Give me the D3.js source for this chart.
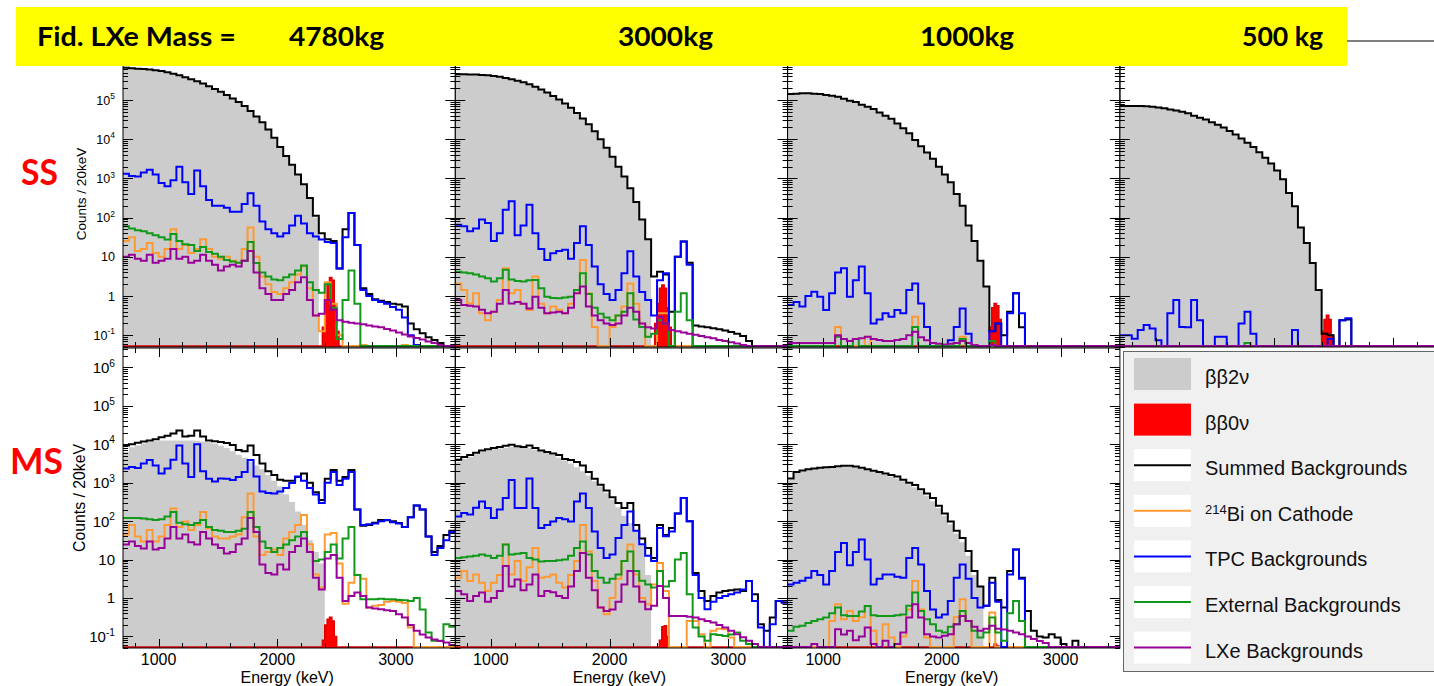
<!DOCTYPE html>
<html><head><meta charset="utf-8">
<script src="https://cdn.jsdelivr.net/npm/d3@7"></script>
<style>body{margin:0;background:#fff;} svg{display:block;}</style>
</head><body>
<svg id="chart" width="1434" height="686"></svg>
<script>
// ---------------- DATA ----------------
// Energy bins: lower edges (keV), 50 keV wide, 700..3500
const binLo = d3.range(700, 3500, 50);
// ββ0ν peak bins: lower edges (keV), 20 keV wide
const redLo = [2380, 2400, 2420, 2440, 2460, 2480, 2500];
// Column headers and row labels
const massLabels = ["4780kg", "3000kg", "1000kg", "500 kg"];
const rowLabels = ["SS", "MS"];
const xTickLabels = [1000, 2000, 3000];
const legendLabels = ["ββ2ν", "ββ0ν", "Summed Backgrounds", "214|Bi on Cathode", "TPC Backgrounds", "External Backgrounds", "LXe Backgrounds"];
// All series: log10(Counts / 20keV) per bin; -3 means below the axis minimum

// ---- SS, 4780 kg ----
const ss4780_bb2n = [5.82,5.81,5.80,5.79,5.78,5.76,5.74,5.71,5.67,5.63, 5.58,5.53,5.48,5.42,5.35,5.28,5.21,5.13,5.04,4.95, 4.85,4.72,4.58,4.43,4.25,4.04,3.80,3.57,3.35,3.10, 2.84,2.48,2.00,-3,-3,-3,-3,-3,-3,-3, -3,-3,-3,-3,-3,-3,-3,-3,-3,-3, -3,-3,-3,-3,-3,-3];
const ss4780_bb0n = [-0.8,-0.1,0.3,0.47,0.4,-0.2,-0.9];
const ss4780_sum = [5.82,5.81,5.80,5.79,5.78,5.76,5.74,5.71,5.67,5.63, 5.58,5.53,5.48,5.42,5.35,5.28,5.21,5.13,5.04,4.95, 4.85,4.72,4.58,4.43,4.25,4.04,3.80,3.57,3.35,3.10, 2.85,2.50,2.05,1.60,1.45,1.40,0.70,1.70,2.12,1.30, 0.20,0.05,-0.08,-0.12,-0.15,-0.20,-0.22,-0.27,-0.70,-0.85, -0.95,-1.05,-1.12,-1.20,-1.30,-1.40];
const ss4780_bi214 = [1.4,1.5,1.15,1.2,1.35,1.1,1.0,1.2,1.7,1.2, 1.3,1.1,1.2,1.45,1.2,1.0,0.95,1.0,0.9,0.85, 1.2,1.75,1.0,0.5,0.3,0.1,0.05,0.2,0.35,0.55, 0.75,0.2,-0.5,-0.9,0.35,-0.2,-1.0,-3,-3,-3, -1.25,-3,-3,-3,-3,-3,-3,-1.25,-3,-3, -3,-3,-3,-3,-3,-3];
const ss4780_tpc = [3.12,3.06,3.05,3.15,3.22,3.1,2.88,2.8,2.95,3.3, 2.9,2.6,3.2,2.8,2.45,2.3,2.3,2.25,2.15,2.15, 2.35,2.62,2.3,1.9,1.7,1.6,1.52,1.6,1.8,2.05, 1.85,1.6,1.52,1.44,1.38,1.35,0.7,1.5,2.12,1.3, 0.15,0.0,-0.1,-0.15,-0.2,-0.28,-0.35,-0.55,-1.0,-1.25, -3,-3,-3,-3,-3,-3];
const ss4780_ext = [1.78,1.72,1.68,1.65,1.6,1.55,1.5,1.44,1.58,1.4, 1.32,1.3,1.15,1.25,1.12,1.08,1.0,0.92,0.88,0.85, 0.9,1.38,0.84,0.6,0.5,0.42,0.4,0.48,0.55,0.65, 0.78,0.35,0.15,0.08,0.3,-0.3,-1.1,-0.1,0.65,-0.2, -3,-3,-3,-3,-3,-3,-3,-3,-3,-3, -3,-3,-3,-3,-3,-3];
const ss4780_lxe = [1.0,1.05,0.95,0.9,1.05,0.85,0.9,0.95,1.2,0.95, 1.0,0.85,0.9,1.05,0.9,0.8,0.65,0.75,0.8,0.75, 0.9,1.15,0.6,0.2,0.05,-0.1,-0.1,0.05,0.15,0.35, 0.48,-0.1,-0.5,-0.45,-0.1,-0.35,-0.62,-0.66,-0.68,-0.7, -0.72,-0.75,-0.78,-0.8,-0.84,-0.88,-0.93,-0.98,-1.03,-1.07, -1.11,-1.16,-1.2,-1.25,-1.3,-1.35];

// ---- SS, 3000 kg ----
const ss3000_bb2n = [5.66,5.66,5.65,5.65,5.64,5.63,5.61,5.59,5.56,5.53, 5.49,5.45,5.40,5.34,5.27,5.19,5.10,5.01,4.91,4.80, 4.67,4.53,4.38,4.20,4.00,3.78,3.55,3.30,3.05,2.75, 2.40,1.95,1.45,-3,-3,-3,-3,-3,-3,-3, -3,-3,-3,-3,-3,-3,-3,-3,-3,-3, -3,-3,-3,-3,-3,-3];
const ss3000_bb0n = [-0.7,-0.2,0.2,0.28,0.2,-0.3,-0.8];
const ss3000_sum = [5.66,5.66,5.65,5.65,5.64,5.63,5.61,5.59,5.56,5.53, 5.49,5.45,5.40,5.34,5.27,5.19,5.10,5.01,4.91,4.80, 4.67,4.53,4.38,4.20,4.00,3.78,3.55,3.30,3.05,2.75, 2.40,1.95,1.45,0.5,0.62,0.55,-0.4,1.0,1.39,0.85, -0.75,-0.78,-0.8,-0.82,-0.85,-0.88,-0.92,-0.96,-1.02,-1.15, -1.28,-3,-3,-3,-3,-3];
const ss3000_bi214 = [0.32,0.15,-0.19,0.07,-0.44,-0.62,-0.4,-0.1,0.71,0.07, 0.15,-0.2,-0.36,0.5,-0.2,-0.44,-0.27,-0.35,-0.44,-0.2, 0.07,0.92,0.07,-0.79,-3,-3,-0.79,-0.5,-0.27,0.32, -0.2,-0.7,-3,-3,-0.44,-0.44,-3,-3,-3,-3, -3,-3,-3,-3,-3,-3,-3,-3,-3,-3, -3,-3,-3,-3,-3,-3];
const ss3000_tpc = [1.82,1.78,1.65,1.72,1.95,1.86,1.4,1.6,2.2,2.42, 1.55,1.8,2.33,1.6,1.2,0.92,1.09,1.15,1.18,0.95, 1.35,1.78,1.3,0.75,0.3,0.05,-0.1,0.15,0.58,1.14, 0.5,0.1,-0.1,-0.5,0.4,0.58,-3,1.0,1.39,0.8, -3,-3,-3,-3,-3,-3,-3,-3,-3,-3, -3,-3,-3,-3,-3,-3];
const ss3000_ext = [0.62,0.6,0.58,0.55,0.5,0.45,0.37,0.45,0.67,0.42, 0.38,0.37,0.4,0.41,0.2,-0.02,-0.05,-0.06,-0.04,-0.02, 0.15,0.58,0.05,-0.3,-0.45,-0.55,-0.62,-0.5,-0.4,0.07, -0.6,-0.79,-1.04,-0.96,-0.62,-0.7,-3,-0.4,0.07,-0.62, -3,-3,-3,-3,-3,-3,-3,-3,-3,-3, -3,-3,-3,-3,-3,-3];
const ss3000_lxe = [-0.1,-0.23,-0.25,-0.27,-0.35,-0.44,-0.4,-0.2,0.15,-0.19, -0.15,-0.2,-0.32,-0.02,-0.3,-0.44,-0.42,-0.4,-0.44,-0.3, 0.07,0.24,-0.27,-0.5,-0.62,-0.7,-0.74,-0.7,-0.5,-0.3, -0.4,-0.7,-0.8,-0.83,-0.53,-0.7,-0.87,-0.9,-0.93,-0.96, -0.99,-1.02,-1.05,-1.08,-1.12,-1.15,-1.18,-1.21,-1.25,-1.3, -3,-3,-3,-3,-3,-3];

// ---- SS, 1000 kg ----
const ss1000_bb2n = [5.15,5.16,5.17,5.17,5.16,5.15,5.13,5.11,5.08,5.03, 4.98,4.95,4.88,4.83,4.77,4.68,4.60,4.52,4.40,4.28, 4.15,3.98,3.82,3.66,3.50,3.30,3.10,2.90,2.60,2.30, 1.80,1.40,0.90,0.24,-3,-3,-3,-3,-3,-3, -3,-3,-3,-3,-3,-3,-3,-3,-3,-3, -3,-3,-3,-3,-3,-3];
const ss1000_bb0n = [-3,-0.8,-0.3,-0.19,-0.25,-0.6,-3];
const ss1000_sum = [5.15,5.16,5.17,5.17,5.16,5.15,5.13,5.11,5.08,5.03, 4.98,4.95,4.88,4.83,4.77,4.68,4.60,4.52,4.40,4.28, 4.15,3.98,3.82,3.66,3.50,3.30,3.10,2.90,2.60,2.30, 1.80,1.40,0.90,0.24,-0.9,-0.7,-1.0,-0.4,0.07,-0.8, -3,-3,-3,-3,-3,-3,-3,-3,-3,-3, -3,-3,-3,-3,-3,-3];
const ss1000_bi214 = [-3,-3,-3,-3,-3,-3,-3,-3,-0.79,-3, -3,-3,-3,-1.04,-3,-3,-3,-3,-3,-3, -3,-0.53,-3,-3,-3,-3,-3,-3,-3,-1.04, -3,-3,-3,-3,-3,-3,-3,-3,-3,-3, -3,-3,-3,-3,-3,-3,-3,-3,-3,-3, -3,-3,-3,-3,-3,-3];
const ss1000_tpc = [-0.23,-0.15,-0.27,0.0,0.11,-0.02,-0.36,0.07,0.6,0.71, -0.02,0.4,0.75,0.07,-0.7,-0.6,-0.44,-0.53,-0.36,-0.44, 0.15,0.32,-0.19,-0.79,-3,-3,-3,-1.13,-0.79,-0.32, -0.96,-3,-3,-3,-0.9,-0.7,-3,-0.44,0.07,-0.44, -3,-3,-3,-3,-3,-3,-3,-3,-3,-3, -3,-3,-3,-3,-3,-3];
const ss1000_ext = [-3,-3,-3,-3,-3,-3,-3,-3,-1.04,-3, -3,-1.1,-3,-3,-3,-3,-3,-3,-3,-3, -3,-0.79,-3,-3,-3,-3,-3,-3,-3,-1.1, -3,-3,-3,-3,-1.15,-3,-3,-3,-3,-3, -3,-3,-3,-3,-3,-3,-3,-3,-3,-3, -3,-3,-3,-3,-3,-3];
const ss1000_lxe = [-1.2,-1.2,-1.2,-1.2,-1.2,-1.2,-1.2,-1.2,-1.0,-1.1, -1.15,-1.1,-1.08,-1.04,-1.1,-1.12,-1.15,-1.15,-1.12,-1.1, -1.0,-0.91,-1.05,-1.13,-1.2,-1.22,-1.24,-1.22,-1.2,-1.15, -1.2,-1.25,-1.28,-1.3,-1.25,-1.3,-3,-3,-3,-3, -3,-3,-3,-3,-3,-3,-3,-3,-3,-3, -3,-3,-3,-3,-3,-3];

// ---- SS, 500 kg ----
const ss500_bb2n = [4.85,4.85,4.85,4.85,4.84,4.83,4.81,4.79,4.76,4.73, 4.70,4.66,4.60,4.55,4.50,4.43,4.37,4.30,4.21,4.12, 4.02,3.91,3.80,3.67,3.53,3.38,3.20,2.98,2.63,2.29, 1.75,1.35,0.84,0.15,-3,-3,-3,-3,-3,-3, -3,-3,-3,-3,-3,-3,-3,-3,-3,-3, -3,-3,-3,-3,-3,-3];
const ss500_bb0n = [-3,-0.9,-0.6,-0.49,-0.6,-1.0,-3];
const ss500_sum = [4.85,4.85,4.85,4.85,4.84,4.83,4.81,4.79,4.76,4.73, 4.70,4.66,4.60,4.55,4.50,4.43,4.37,4.30,4.21,4.12, 4.02,3.91,3.80,3.67,3.53,3.38,3.20,2.98,2.63,2.29, 1.75,1.35,0.84,0.15,-0.96,-1.0,-3,-0.62,-0.6,-3, -3,-3,-3,-3,-3,-3,-3,-3,-3,-3, -3,-3,-3,-3,-3,-3];
const ss500_bi214 = [-3,-3,-3,-3,-3,-3,-3,-3,-3,-3, -3,-3,-3,-3,-3,-3,-3,-3,-3,-3, -3,-3,-3,-3,-3,-3,-3,-3,-3,-3, -3,-3,-3,-3,-3,-3,-3,-3,-3,-3, -3,-3,-3,-3,-3,-3,-3,-3,-3,-3, -3,-3,-3,-3,-3,-3];
const ss500_tpc = [-1.0,-1.0,-1.09,-0.87,-0.74,-0.83,-1.13,-3,-0.44,-0.1, -0.79,-0.8,-0.1,-0.62,-3,-3,-1.04,-1.04,-3,-3, -0.7,-0.4,-0.96,-3,-3,-3,-3,-3,-3,-0.87, -3,-3,-3,-3,-3,-1.09,-3,-0.62,-0.57,-3, -3,-3,-3,-3,-3,-3,-3,-3,-3,-3, -3,-3,-3,-3,-3,-3];
const ss500_ext = [-3,-3,-3,-3,-3,-3,-3,-3,-3,-3, -3,-3,-3,-3,-3,-3,-3,-3,-3,-3, -3,-1.2,-3,-3,-3,-3,-3,-3,-3,-3, -3,-3,-3,-3,-3,-3,-3,-3,-3,-3, -3,-3,-3,-3,-3,-3,-3,-3,-3,-3, -3,-3,-3,-3,-3,-3];
const ss500_lxe = [-3,-3,-3,-3,-3,-3,-3,-3,-3,-3, -3,-3,-3,-3,-3,-3,-3,-3,-3,-3, -3,-3,-3,-3,-3,-3,-3,-3,-3,-3, -3,-3,-3,-3,-3,-3,-3,-3,-3,-3, -3,-3,-3,-3,-3,-3,-3,-3,-3,-3, -3,-3,-3,-3,-3,-3];

// ---- MS, 4780 kg ----
const ms4780_bb2n = [3.80,3.92,3.97,4.02,4.06,4.08,4.10,4.10,4.10,4.10, 4.10,4.10,4.09,4.07,4.05,4.02,3.96,3.90,3.82,3.73, 3.65,3.55,3.45,3.35,3.20,3.05,2.90,2.70,2.50,2.25, 1.90,1.50,1.20,0.90,-3,-3,-3,-3,-3,-3, -3,-3,-3,-3,-3,-3,-3,-3,-3,-3, -3,-3,-3,-3,-3,-3];
const ms4780_bb0n = [-1.1,-0.7,-0.55,-0.5,-0.6,-1.0,-3];
const ms4780_sum = [3.97,4.0,4.04,4.07,4.1,4.13,4.18,4.22,4.28,4.36, 4.2,4.22,4.36,4.2,4.1,4.08,4.06,4.03,3.98,3.85, 3.82,3.97,3.72,3.5,3.3,3.2,3.08,3.05,3.05,3.15, 3.24,3.0,2.75,2.55,3.1,3.33,3.05,3.15,3.33,2.3, 1.88,1.9,1.96,2.03,2.02,2.0,1.95,1.85,2.1,2.41, 2.3,1.6,1.2,1.35,1.64,1.75];
const ms4780_bi214 = [1.65,1.9,1.6,1.47,1.77,1.47,1.6,1.9,2.33,1.85, 1.99,1.77,1.9,2.24,1.81,1.6,1.55,1.55,1.6,1.65, 2.1,2.72,1.6,1.12,1.2,1.26,1.12,1.55,1.72,1.9, 2.16,1.4,0.61,0.27,1.65,1.69,0.9,-0.15,0.4,0.6, 0.5,-0.25,-0.2,-0.18,-0.1,-0.08,-0.1,-0.13,-0.77,-3, -3,-3,-3,-3,-3,-3];
const ms4780_tpc = [3.37,3.41,3.38,3.5,3.59,3.45,3.24,3.37,3.6,3.97, 3.5,3.15,4.0,3.3,3.1,3.03,3.11,3.1,3.07,3.15, 3.28,3.59,3.16,2.77,2.73,2.72,2.77,2.86,2.99,3.16, 3.05,2.86,2.69,2.47,3.0,3.28,2.94,3.1,3.28,2.3, 1.9,1.92,1.94,2.0,2.03,1.97,1.94,1.85,2.1,2.41, 2.3,1.6,1.12,1.3,1.5,1.72];
const ms4780_ext = [2.08,2.08,2.08,2.07,2.05,2.03,2.05,2.12,2.24,1.96, 1.92,1.9,1.95,2.03,1.85,1.77,1.75,1.72,1.72,1.75, 1.8,2.24,1.85,1.47,1.3,1.2,1.3,1.39,1.5,1.6, 1.72,1.2,0.96,1.0,1.2,1.39,1.03,1.55,1.85,0.6, -0.03,-0.03,-0.03,-0.02,-0.03,-0.03,-0.05,-0.06,-0.08,0.0, -0.3,-0.9,-1.11,-1.11,-0.68,-0.75];
const ms4780_lxe = [1.39,1.47,1.35,1.29,1.47,1.26,1.3,1.55,1.85,1.55, 1.65,1.45,1.39,1.72,1.55,1.39,1.3,1.16,1.2,1.4, 1.55,2.08,1.72,0.87,0.65,0.61,0.87,0.74,1.2,1.35, 1.55,1.2,0.53,0.22,1.03,1.12,0.53,-0.08,0.05,0.14, 0.05,-0.25,-0.27,-0.29,-0.32,-0.34,-0.42,-0.51,-0.7,-0.85, -0.95,-1.03,-1.08,-1.12,-1.16,-1.22];

// ---- MS, 3000 kg ----
const ms3000_bb2n = [3.54,3.62,3.67,3.74,3.80,3.84,3.87,3.89,3.91,3.93, 3.93,3.92,3.90,3.86,3.82,3.77,3.72,3.65,3.58,3.50, 3.40,3.30,3.18,3.04,2.90,2.74,2.56,2.36,2.14,1.95, 1.75,1.39,0.60,-3,-3,-3,-3,-3,-3,-3, -3,-3,-3,-3,-3,-3,-3,-3,-3,-3, -3,-3,-3,-3,-3,-3];
const ms3000_bb0n = [-3,-3,-1.1,-0.75,-0.72,-1.0,-3];
const ms3000_sum = [3.6,3.67,3.72,3.78,3.84,3.87,3.9,3.93,3.96,3.99, 3.95,3.93,3.97,3.9,3.84,3.8,3.76,3.72,3.62,3.59, 3.54,3.45,3.28,3.1,2.95,2.8,2.62,2.47,2.34,2.47, 1.9,1.55,1.3,1.04,1.9,1.64,1.82,2.2,2.6,2.0, 0.65,0.18,-0.08,0.05,0.14,0.18,0.2,0.22,0.18,0.44, 0.1,-0.68,-0.85,-0.51,-0.08,-0.12];
const ms3000_bi214 = [0.53,0.7,0.44,0.61,0.4,0.18,0.4,0.6,1.39,0.61, 0.96,0.44,0.8,1.3,0.53,0.55,0.61,0.4,0.27,0.6, 0.96,1.9,1.21,0.44,-0.25,-0.42,0.0,0.5,0.96,1.39, 0.61,0.0,-0.16,0.35,0.91,0.18,-3,-3,-3,-0.6, -0.6,-0.94,-3,-0.85,-0.8,-0.81,-1.03,-3,-3,-3, -3,-3,-3,-3,-3,-3];
const ms3000_tpc = [2.12,2.21,2.17,2.35,2.51,2.34,2.08,2.3,2.6,3.07, 2.34,2.34,3.11,2.34,1.82,1.9,1.99,2.08,2.05,1.99, 2.51,2.72,2.34,1.73,1.3,1.04,1.13,1.56,1.9,2.25, 1.75,1.4,1.1,0.96,1.82,1.61,1.73,2.2,2.6,2.0, 0.6,0.0,-0.29,-0.1,0.0,0.05,0.1,0.14,0.22,0.44, -0.08,-0.77,-3,-0.68,-0.08,-0.12];
const ms3000_ext = [1.04,1.06,1.08,1.1,1.13,1.1,1.04,1.1,1.39,1.13, 1.15,1.17,1.04,1.0,0.95,0.96,0.96,0.98,1.0,1.1, 1.3,1.47,1.13,0.7,0.53,0.4,0.5,0.61,0.96,1.21, 0.7,0.45,0.35,0.27,0.7,0.3,0.44,1.0,1.17,0.1, -0.77,-1.0,-1.11,-0.94,-0.96,-0.99,-0.95,-0.9,-1.11,-1.2, -3,-3,-3,-3,-3,-3];
const ms3000_lxe = [0.18,0.1,-0.08,0.05,0.14,-0.1,0.0,0.18,0.83,0.3, 0.48,0.2,0.35,0.61,0.05,0.18,0.15,0.05,0.0,0.3, 0.7,1.17,0.53,0.2,-0.25,-0.34,-0.3,-0.1,0.35,0.7, 0.3,-0.1,-0.29,-0.2,0.31,0.0,-0.47,-0.47,-0.47,-0.49, -0.51,-0.55,-0.6,-0.64,-0.7,-0.77,-0.85,-0.94,-1.02,-1.11, -1.2,-3,-3,-3,-3,-3];

// ---- MS, 1000 kg ----
const ms1000_bb2n = [3.08,3.25,3.30,3.33,3.35,3.37,3.38,3.39,3.40,3.41, 3.41,3.40,3.37,3.33,3.29,3.25,3.21,3.16,3.11,3.04, 2.96,2.88,2.78,2.66,2.52,2.34,2.14,1.92,1.68,1.45, 1.10,0.60,0.30,-3,-3,-3,-3,-3,-3,-3, -3,-3,-3,-3,-3,-3,-3,-3,-3,-3, -3,-3,-3,-3,-3,-3];
const ms1000_bb0n = [-3,-3,-3,-1.2,-1.25,-3,-3];
const ms1000_sum = [3.11,3.28,3.32,3.35,3.37,3.39,3.4,3.41,3.43,3.44, 3.44,3.42,3.39,3.35,3.31,3.28,3.24,3.2,3.16,3.08, 3.0,2.94,2.83,2.72,2.6,2.4,2.2,1.99,1.75,1.56, 1.22,0.7,0.3,-0.2,0.53,-0.05,-0.25,0.7,1.26,0.53, -0.34,-0.85,-1.0,-1.03,-0.94,-1.03,-1.2,-3,-1.11,-3, -3,-3,-3,-3,-3,-3];
const ms1000_bi214 = [-3,-3,-3,-3,-3,-3,-3,-0.6,-0.16,-0.55, -0.34,-0.6,-0.5,-0.21,-0.85,-3,-0.68,-1.03,-3,-1.0, -0.3,0.44,-0.3,-1.03,-3,-3,-3,-3,-0.5,-0.03, -0.6,-3,-3,-3,-0.38,-3,-3,-3,-3,-3, -3,-3,-3,-3,-3,-3,-3,-3,-3,-3, -3,-3,-3,-3,-3,-3];
const ms1000_tpc = [0.35,0.4,0.45,0.53,0.7,0.6,0.35,0.7,1.2,1.43, 0.85,1.2,1.52,1.0,0.35,0.5,0.61,0.61,0.55,0.53, 1.04,1.3,0.87,0.18,-0.3,-0.51,-0.43,-0.08,0.53,0.87, 0.5,0.0,-0.25,-0.2,0.4,-0.1,-3,0.61,1.26,0.5, -3,-3,-3,-3,-3,-3,-3,-3,-3,-3, -3,-3,-3,-3,-3,-3];
const ms1000_ext = [-0.85,-0.75,-0.72,-0.65,-0.6,-0.55,-0.51,-0.4,-0.25,-0.45, -0.47,-0.47,-0.35,-0.21,-0.45,-0.47,-0.47,-0.47,-0.45,-0.43, -0.2,0.14,-0.34,-0.55,-0.68,-0.85,-0.9,-0.75,-0.68,-0.34, -0.6,-0.85,-1.03,-0.9,-0.51,-0.9,-1.11,-0.4,-0.08,-0.6, -3,-3,-3,-3,-3,-3,-3,-3,-3,-3, -3,-3,-3,-3,-3,-3];
const ms1000_lxe = [-3,-3,-3,-3,-1.2,-3,-3,-3,-0.81,-0.95, -0.85,-1.1,-1.0,-0.77,-1.2,-3,-1.11,-3,-1.2,-0.9, -0.51,-0.16,-0.51,-0.94,-1.0,-1.03,-0.98,-0.94,-0.68,-0.47, -0.6,-0.75,-0.85,-0.8,-0.72,-0.8,-0.82,-0.85,-0.9,-0.94, -1.0,-1.07,-1.12,-1.17,-3,-3,-3,-3,-3,-3, -3,-3,-3,-3,-3,-3];

// ---------------- LAYOUT ----------------
const W = 1434, H = 686;
const binW = 50, redW = 20;
const colX0 = 123, colW = 332.3;
const rows = [{y0: 41, y1: 347}, {y0: 348, y1: 648}];
const yDomain = [0.05, 3.2e6];
const colors = {bb2n: "#cccccc", bb0n: "#ff0000", sum: "#000000", bi214: "#ff9933", tpc: "#0000ff", ext: "#11991a", lxe: "#990099"};

const panels = [
  {row:0, col:0, bb2n:ss4780_bb2n, bb0n:ss4780_bb0n, sum:ss4780_sum, bi214:ss4780_bi214, tpc:ss4780_tpc, ext:ss4780_ext, lxe:ss4780_lxe},
  {row:0, col:1, bb2n:ss3000_bb2n, bb0n:ss3000_bb0n, sum:ss3000_sum, bi214:ss3000_bi214, tpc:ss3000_tpc, ext:ss3000_ext, lxe:ss3000_lxe},
  {row:0, col:2, bb2n:ss1000_bb2n, bb0n:ss1000_bb0n, sum:ss1000_sum, bi214:ss1000_bi214, tpc:ss1000_tpc, ext:ss1000_ext, lxe:ss1000_lxe},
  {row:0, col:3, bb2n:ss500_bb2n, bb0n:ss500_bb0n, sum:ss500_sum, bi214:ss500_bi214, tpc:ss500_tpc, ext:ss500_ext, lxe:ss500_lxe},
  {row:1, col:0, bb2n:ms4780_bb2n, bb0n:ms4780_bb0n, sum:ms4780_sum, bi214:ms4780_bi214, tpc:ms4780_tpc, ext:ms4780_ext, lxe:ms4780_lxe},
  {row:1, col:1, bb2n:ms3000_bb2n, bb0n:ms3000_bb0n, sum:ms3000_sum, bi214:ms3000_bi214, tpc:ms3000_tpc, ext:ms3000_ext, lxe:ms3000_lxe},
  {row:1, col:2, bb2n:ms1000_bb2n, bb0n:ms1000_bb0n, sum:ms1000_sum, bi214:ms1000_bi214, tpc:ms1000_tpc, ext:ms1000_ext, lxe:ms1000_lxe}
];

const svg = d3.select("#chart");
const defs = svg.append("defs");
const AX_FONT = "'Liberation Sans', Arial, Helvetica, sans-serif";

panels.forEach((p, pi) => {
  const x0 = colX0 + p.col * colW, x1 = x0 + colW;
  const {y0, y1} = rows[p.row];
  const x = d3.scaleLinear().domain([700, 3500]).range([x0, x1]);
  const y = d3.scaleLog().domain(yDomain).range([y1, y0]).clamp(true);
  const yv = L => (L <= -2.5) ? y1 - 1 : Math.min(y(Math.pow(10, L)), y1 - 1);

  defs.append("clipPath").attr("id", "clip" + pi)
    .append("rect").attr("x", x0).attr("y", y0).attr("width", colW).attr("height", y1 - y0 + 1);
  const g = svg.append("g").attr("clip-path", `url(#clip${pi})`);

  // ββ2ν filled histogram
  const gp = [];
  binLo.forEach((e, i) => { if (p.bb2n[i] > -2.5) gp.push([e, p.bb2n[i]]); });
  gp.push([gp[gp.length - 1][0] + binW, gp[gp.length - 1][1]]);
  const area = d3.area().curve(d3.curveStepAfter).x(d => x(d[0])).y0(y1).y1(d => yv(d[1]));
  g.append("path").attr("d", area(gp)).attr("fill", colors.bb2n);

  // ββ0ν filled histogram
  const rp = [[700, -3]].concat(redLo.map((e, i) => [e, p.bb0n[i]]), [[redLo[redLo.length - 1] + redW, -3], [3500, -3]]);
  g.append("path").attr("d", area(rp)).attr("fill", colors.bb0n);
  const line = d3.line().curve(d3.curveStepAfter).x(d => x(d[0])).y(d => yv(d[1]));
  g.append("path").attr("d", line(rp)).attr("fill", "none").attr("stroke", "#e00000").attr("stroke-width", 1.5);

  // background lines
  ["sum", "bi214", "tpc", "ext", "lxe"].forEach(k => {
    const pts = binLo.map((e, i) => [e, p[k][i]]);
    pts.push([3500, p[k][p[k].length - 1]]);
    g.append("path").attr("d", line(pts)).attr("fill", "none")
      .attr("stroke", colors[k]).attr("stroke-width", 2).attr("stroke-linejoin", "miter");
  });

  // frame
  const fr = svg.append("g").attr("stroke", "#000").attr("stroke-width", 1).attr("fill", "none");
  fr.append("rect").attr("x", x0).attr("y", y0).attr("width", colW).attr("height", y1 - y0);
  // y ticks
  for (let d = -2; d <= 7; d++) {
    for (let k = 1; k <= 9; k++) {
      const v = k * Math.pow(10, d);
      if (v < yDomain[0] || v > yDomain[1]) continue;
      const yy = Math.round(y(v)) + 0.5;
      const len = (k === 1) ? 10 : 5;
      fr.append("line").attr("x1", x0).attr("x2", x0 + len).attr("y1", yy).attr("y2", yy);
      fr.append("line").attr("x1", x1).attr("x2", x1 - len).attr("y1", yy).attr("y2", yy);
    }
  }
  // x ticks (bottom edge; top edge only for the lower row)
  for (let e = 800; e < 3500; e += 200) {
    const xx = Math.round(x(e)) + 0.5;
    const len = (e % 1000 === 0) ? 9 : 5;
    fr.append("line").attr("x1", xx).attr("x2", xx).attr("y1", y1).attr("y2", y1 - len);
    if (p.row === 1) fr.append("line").attr("x1", xx).attr("x2", xx).attr("y1", y0).attr("y2", y0 + len);
  }

  // y tick labels (first column only)
  if (p.col === 0) {
    const fs = p.row === 0 ? 12.5 : 15;
    for (let d = -1; d <= 6; d++) {
      const v = Math.pow(10, d);
      if (v > yDomain[1]) continue;
      const t = svg.append("text").attr("x", 115).attr("y", y(v) + fs * 0.36)
        .attr("text-anchor", "end").attr("font-family", AX_FONT).attr("font-size", fs).attr("fill", "#000");
      if (d === 0) t.text("1");
      else if (d === 1) t.text("10");
      else {
        t.append("tspan").text("10");
        t.append("tspan").attr("dy", -fs * 0.42).attr("font-size", fs * 0.68).text(String(d));
      }
    }
    svg.append("text")
      .attr("transform", `translate(${p.row === 0 ? 86 : 85},${p.row === 0 ? 194 : 498}) rotate(-90)`)
      .attr("text-anchor", "middle").attr("font-family", AX_FONT)
      .attr("font-size", p.row === 0 ? 13.5 : 15.8).text("Counts / 20keV");
  }
  // x tick labels (bottom row)
  if (p.row === 1) {
    xTickLabels.forEach(e => {
      svg.append("text").attr("x", x(e)).attr("y", 665).attr("text-anchor", "middle")
        .attr("font-family", AX_FONT).attr("font-size", 16).text(String(e));
    });
    svg.append("text").attr("x", (x0 + x1) / 2 - 2).attr("y", 683).attr("text-anchor", "middle")
      .attr("font-family", AX_FONT).attr("font-size", 16).text("Energy (keV)");
  }
});

// ---------------- BANNER ----------------
svg.append("rect").attr("x", 16).attr("y", 7).attr("width", 1331).attr("height", 59).attr("fill", "#ffff00");
const BANNER_FONT = "Lato, 'Open Sans', sans-serif";
svg.append("text").attr("x", 37).attr("y", 46).attr("font-family", BANNER_FONT).attr("font-weight", 700)
  .attr("font-size", 27).attr("textLength", 199).attr("lengthAdjust", "spacingAndGlyphs").text("Fid. LXe Mass =");
const bannerX = [289, 618, 920, 1242];
const bannerLen = [95, 95, 94, 81];
massLabels.forEach((m, i) => {
  svg.append("text").attr("x", bannerX[i]).attr("y", 46).attr("font-family", BANNER_FONT).attr("font-weight", 700)
    .attr("font-size", 27).attr("textLength", bannerLen[i]).attr("lengthAdjust", "spacingAndGlyphs").text(m);
});

// Row labels
svg.append("text").attr("x", 21).attr("y", 185).attr("font-family", BANNER_FONT).attr("font-weight", 700)
  .attr("font-size", 37).attr("fill", "#ff0000").attr("textLength", 37).attr("lengthAdjust", "spacingAndGlyphs").text(rowLabels[0]);
svg.append("text").attr("x", 10).attr("y", 474).attr("font-family", BANNER_FONT).attr("font-weight", 700)
  .attr("font-size", 37).attr("fill", "#ff0000").attr("textLength", 53).attr("lengthAdjust", "spacingAndGlyphs").text(rowLabels[1]);

// ---------------- LEGEND ----------------
const lg = svg.append("g");
lg.append("rect").attr("x", 1123.5).attr("y", 351.5).attr("width", 330).attr("height", 320)
  .attr("fill", "#f0f0f0").attr("stroke", "#666").attr("stroke-width", 1);
const legKeys = ["bb2n", "bb0n", "sum", "bi214", "tpc", "ext", "lxe"];
legendLabels.forEach((lab, i) => {
  const cy = 374 + i * 45.6;
  const k = legKeys[i];
  const filled = (k === "bb2n" || k === "bb0n");
  lg.append("rect").attr("x", 1134).attr("y", cy - 16).attr("width", 57).attr("height", 32)
    .attr("fill", filled ? colors[k] : "#ffffff");
  if (!filled) {
    lg.append("line").attr("x1", 1134).attr("x2", 1191).attr("y1", cy).attr("y2", cy)
      .attr("stroke", colors[k]).attr("stroke-width", 2);
  }
  const t = lg.append("text").attr("x", 1205).attr("y", cy + 10).attr("font-family", AX_FONT).attr("font-size", 20).attr("fill", "#111");
  if (lab.includes("|")) {
    const [sup, rest] = lab.split("|");
    t.append("tspan").attr("dy", -7).attr("font-size", 13).text(sup);
    t.append("tspan").attr("dy", 7).text(rest);
  } else t.text(lab);
});
</script></body></html>
